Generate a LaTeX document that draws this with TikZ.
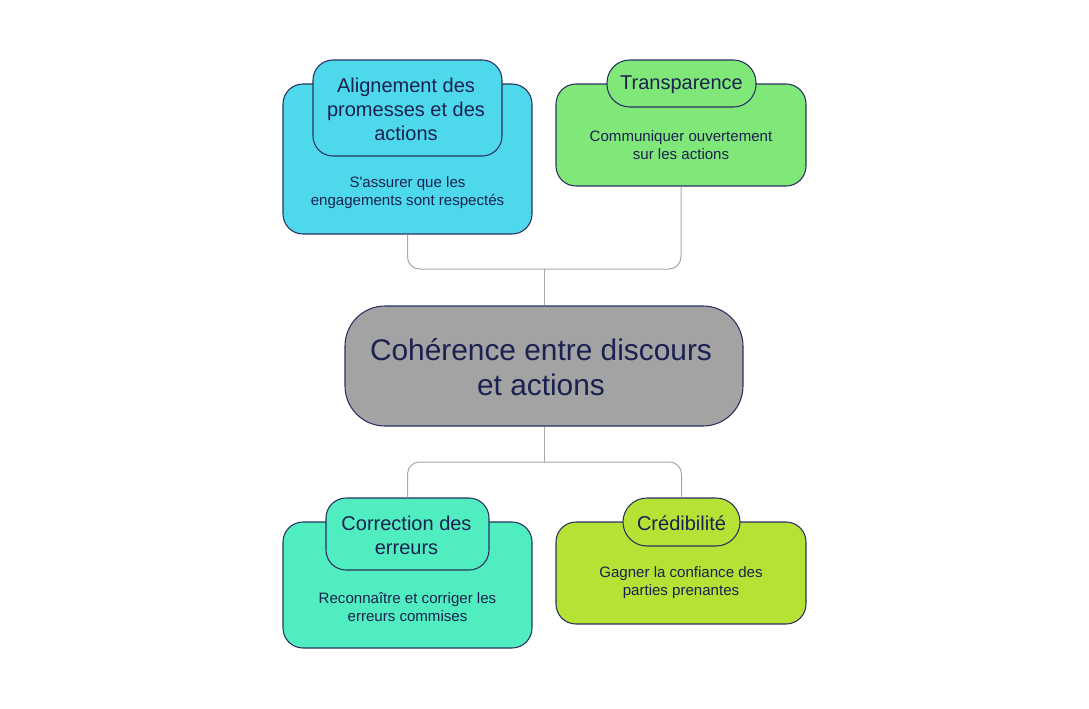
\documentclass[tikz,border=0pt]{standalone}
\usepackage{fontspec}
\setmainfont{Liberation Sans}
\newfontfamily\plainf{Liberation Sans}
\definecolor{txt}{HTML}{1B2150}
\definecolor{edge}{HTML}{2A3160}
\definecolor{conncol}{HTML}{A8A8A8}
\definecolor{cyanfill}{HTML}{4DD9EB}
\definecolor{greenfill}{HTML}{80E878}
\definecolor{mintfill}{HTML}{50EDC0}
\definecolor{limefill}{HTML}{B5E234}
\definecolor{grayfill}{HTML}{A3A3A3}
\tikzset{
  box/.style={draw=edge, line width=0.8pt, rectangle, inner sep=0pt, text=txt},
  titletext/.style={text=txt, align=center, font=\plainf\fontsize{15}{18}\selectfont, inner sep=0pt},
  desctext/.style={text=txt, align=center, font=\plainf\fontsize{11.3}{13.5}\selectfont, inner sep=0pt},
  conn/.style={draw=conncol, line width=0.75pt, rounded corners=9pt},
}
\begin{document}
\begin{tikzpicture}[x=0.75pt, y=-0.75pt]
\useasboundingbox (0,0) rectangle (1089,708);
% center
\node[box, fill=grayfill, minimum width=298.5pt, minimum height=90pt, rounded corners=30pt] (center) at (544,366) {};
\node[text=txt, align=center, font=\plainf\fontsize{22.4}{26.25}\selectfont, inner sep=0pt] (centertxt) at (541,367) {Cohérence entre discours\\et actions};
% top-left
\node[box, fill=cyanfill, minimum width=186.75pt, minimum height=112.5pt, rounded corners=15pt] (tl) at (407.5,159) {};
\node[box, fill=cyanfill, minimum width=141.75pt, minimum height=72pt, rounded corners=15pt] (tlt) at (407.5,108) {};
\node[titletext] (tltxt) at (406,109) {Alignement des\\promesses et des\\actions};
\node[desctext] (tldesc) at (407.5,193) {S'assurer que les\\engagements sont respectés};
% top-right
\node[box, fill=greenfill, minimum width=187.5pt, minimum height=76.5pt, rounded corners=15pt] (tr) at (681,135) {};
\node[box, fill=greenfill, minimum width=111.75pt, minimum height=35.25pt, rounded corners=17pt] (trt) at (681.5,83.5) {};
\node[titletext] (trtxt) at (681.5,85) {Transparence};
\node[desctext] (trdesc) at (681,145) {Communiquer ouvertement\\sur les actions};
% bottom-left
\node[box, fill=mintfill, minimum width=186.75pt, minimum height=94.5pt, rounded corners=15pt] (bl) at (407.5,585) {};
\node[box, fill=mintfill, minimum width=122.25pt, minimum height=54pt, rounded corners=15pt] (blt) at (407.5,534) {};
\node[titletext] (bltxt) at (406.5,535) {Correction des\\erreurs};
\node[desctext] (bldesc) at (407.5,607) {Reconnaître et corriger les\\erreurs commises};
% bottom-right
\node[box, fill=limefill, minimum width=187.5pt, minimum height=76.5pt, rounded corners=15pt] (br) at (681,573) {};
\node[box, fill=limefill, minimum width=87.75pt, minimum height=36pt, rounded corners=18pt] (brt) at (681.5,522) {};
\node[titletext] (brtxt) at (681.5,523) {Crédibilité};
\node[desctext] (brdesc) at (681,583) {Gagner la confiance des\\parties prenantes};
% connectors
\coordinate (jt) at (544,269);
\coordinate (jb) at (544,462);
\draw[conn] (tl.south) |- (jt) -| (tr.south);
\draw[conn] (jt) -- (center.north);
\draw[conn] (center.south) -- (jb);
\draw[conn] (blt.north) |- (jb) -| (brt.north);
\end{tikzpicture}
\end{document}
